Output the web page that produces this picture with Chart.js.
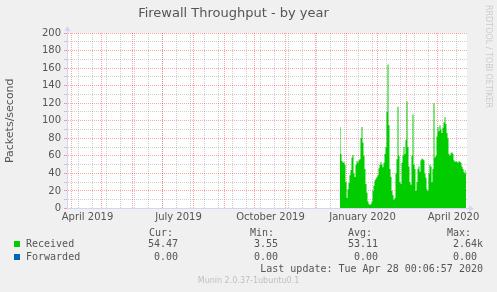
<!DOCTYPE html>
<html>
<head>
<meta charset="utf-8">
<title>Firewall Throughput - by year</title>
<script src="https://cdn.jsdelivr.net/npm/chart.js@4.4.1/dist/chart.umd.min.js"></script>
<style>
  body { margin: 0; background: #f0f0f0; }
  #wrap { position: relative; width: 497px; height: 292px; overflow: hidden; }
  #chart { position: absolute; left: 0; top: 0; }
  .lg { position: absolute; font: 10px "DejaVu Sans Mono", monospace; color: #555; white-space: pre; line-height: 12px; }
  .box { position: absolute; width: 6px; height: 6px; }
  #munin { position: absolute; left: 0; width: 497px; top: 276px; text-align: center; font: 8px "DejaVu Sans", sans-serif; color: #c0c0c0; line-height: 10px; }
  #rrd { position: absolute; left: 483px; top: 5px; writing-mode: vertical-rl; font: 8px "DejaVu Sans", sans-serif; color: #cccccc; line-height: 10px; }
</style>
</head>
<body>
<div id="wrap">
  <canvas id="chart" width="497" height="292"></canvas>
  <div id="rrd">RRDTOOL / TOBI OETIKER</div>
  <div id="munin">Munin 2.0.37-1ubuntu0.1</div>
</div>
<script>
"use strict";

const DAY = 864e5;
const lastUpdate = Date.UTC(2020, 3, 28, 0, 6, 57);

// daily averages, packets/second, starting 25 Dec 2019
const firstDay = Date.UTC(2019, 11, 25);
const receivedValues = [
  93, 62, 54, 52, 53, 50, 30, 12, 22, 29,
  38, 44, 58, 61, 40, 36, 50, 54, 52, 55,
  56, 80, 93, 75, 60, 45, 28, 18, 8, 5,
  4, 5, 8, 20, 26, 32, 34, 36, 38, 46,
  50, 53, 50, 47, 52, 62, 70, 110, 164, 95,
  45, 36, 20, 15, 10, 12, 40, 56, 116, 60,
  30, 28, 52, 60, 70, 62, 78, 122, 70, 48,
  30, 27, 60, 107, 50, 45, 20, 30, 45, 48,
  42, 55, 57, 56, 55, 40, 35, 22, 20, 40,
  50, 48, 30, 45, 120, 58, 60, 82, 93, 88,
  95, 90, 86, 92, 98, 104, 96, 86, 80, 62,
  60, 63, 64, 62, 55, 53, 54, 53, 52, 54,
  53, 52, 48, 45, 42, 40, 44
];
const forwardedValues = [
  0, 0, 0, 0, 0, 0, 0, 0, 0, 0,
  0, 0, 0, 0, 0, 0, 0, 0, 0, 0,
  0, 0, 0, 0, 0, 0, 0, 0, 0, 0,
  0, 0, 0, 0, 0, 0, 0, 0, 0, 0,
  0, 0, 0, 0, 0, 0, 0, 0, 0, 0,
  0, 0, 0, 0, 0, 0, 0, 0, 0, 0,
  0, 0, 0, 0, 0, 0, 0, 0, 0, 0,
  0, 0, 0, 0, 0, 0, 0, 0, 0, 0,
  0, 0, 0, 0, 0, 0, 0, 0, 0, 0,
  0, 0, 0, 0, 0, 0, 0, 0, 0, 0,
  0, 0, 0, 0, 0, 0, 0, 0, 0, 0,
  0, 0, 0, 0, 0, 0, 0, 0, 0, 0,
  0, 0, 0, 0, 0, 0, 0
];

const seriesNames = ['Received', 'Forwarded'];
const curValues = [54.47, 0];
const minValues = [3.55, 0];
const avgValues = [53.11, 0];
const maxValues = [2640, 0];

const tickLabels = ['April 2019', 'July 2019', 'October 2019', 'January 2020', 'April 2020'];
const tickLabelMonths = [[2019, 3], [2019, 6], [2019, 9], [2020, 0], [2020, 3]];

const green = '#00cc00';
const blue = '#0066b3';
const axisColor = '#cfd6f8';
const majorGrid = 'rgba(255, 0, 0, 0.35)';
const minorGrid = 'rgba(120, 120, 120, 0.35)';

const xMin = -398;
const xMax = 2;

function dayX(t) {
  return (t - lastUpdate) / DAY;
}

function toPoints(values) {
  return values.map((v, i) => ({ x: dayX(firstDay + i * DAY), y: v }));
}

// x ticks: fortnightly minor lines (mondays), monthly major lines, quarterly labels
function buildXTicks() {
  let ticks = [];
  for (let t = Date.UTC(2019, 3, 8); dayX(t) <= xMax; t += 14 * DAY) {
    ticks.push({ value: dayX(t), kind: 'minor', text: '' });
  }
  for (let m = 0; m < 14; m++) {
    let t = Date.UTC(2019, 3 + m, 1);
    if (dayX(t) <= xMax) ticks.push({ value: dayX(t), kind: 'major', text: '' });
  }
  tickLabelMonths.forEach((ym, i) => {
    ticks.push({ value: dayX(Date.UTC(ym[0], ym[1], 16, 12)), kind: 'label', text: tickLabels[i] });
  });
  ticks = ticks.filter(t => t.value >= xMin && t.value <= xMax);
  ticks.sort((a, b) => a.value - b.value);
  return ticks;
}

function fmt(v) {
  if (v >= 1000) return (v / 1000).toFixed(2) + 'k';
  return v.toFixed(2) + ' ';
}

const plotFrame = {
  id: 'plotFrame',
  beforeDraw(chart) {
    const { ctx, chartArea: a } = chart;
    ctx.save();
    ctx.fillStyle = '#ffffff';
    ctx.fillRect(a.left, a.top, a.right - a.left, a.bottom - a.top);
    ctx.restore();
  },
  afterDraw(chart) {
    const { ctx, chartArea: a } = chart;
    const x0 = Math.round(a.left) + 0.5;
    const y0 = Math.round(a.bottom) - 0.5;
    ctx.save();
    ctx.strokeStyle = axisColor;
    ctx.fillStyle = axisColor;
    ctx.lineWidth = 1;
    ctx.beginPath();
    ctx.moveTo(x0, a.top);
    ctx.lineTo(x0, a.top - 3);
    ctx.moveTo(a.right, y0);
    ctx.lineTo(a.right + 3, y0);
    ctx.stroke();
    ctx.beginPath();
    ctx.moveTo(x0 - 3, a.top - 2);
    ctx.lineTo(x0 + 3, a.top - 2);
    ctx.lineTo(x0, a.top - 7);
    ctx.closePath();
    ctx.fill();
    ctx.beginPath();
    ctx.moveTo(a.right + 2, y0 - 3);
    ctx.lineTo(a.right + 2, y0 + 3);
    ctx.lineTo(a.right + 7, y0);
    ctx.closePath();
    ctx.fill();
    ctx.restore();
  }
};

let ctx = document.getElementById('chart').getContext('2d');
let chart = new Chart(ctx, {
  type: 'line',
  data: {
    datasets: [{
      label: seriesNames[0],
      data: toPoints(receivedValues),
      backgroundColor: green,
      borderColor: green,
      borderWidth: 0,
      pointRadius: 0,
      stepped: 'middle',
      fill: 'origin'
    }, {
      label: seriesNames[1],
      data: toPoints(forwardedValues),
      backgroundColor: blue,
      borderColor: blue,
      borderWidth: 0,
      pointRadius: 0,
      stepped: 'middle',
      fill: 'origin'
    }]
  },
  options: {
    responsive: false,
    animation: false,
    events: [],
    layout: { padding: { left: 0, right: 30, top: 0, bottom: 0 } },
    plugins: {
      legend: { display: false },
      tooltip: { enabled: false },
      title: {
        display: true,
        text: 'Firewall Throughput - by year',
        color: '#555',
        font: { family: 'DejaVu Sans', size: 13, weight: 'normal' },
        padding: { top: 6, bottom: 11.4 }
      }
    },
    scales: {
      x: {
        type: 'linear',
        min: xMin,
        max: xMax,
        afterBuildTicks(scale) { scale.ticks = buildXTicks(); },
        afterFit(scale) { scale.height = 83.5; },
        ticks: {
          autoSkip: false,
          maxRotation: 0,
          padding: 3,
          color: '#555',
          font: { family: 'DejaVu Sans', size: 10 },
          callback(value, index, ticks) { return ticks[index].text; }
        },
        grid: {
          drawTicks: false,
          color: c => c.tick && c.tick.kind === 'major' ? majorGrid : minorGrid,
          lineWidth: c => c.tick && c.tick.kind === 'label' ? 0 : 1
        },
        border: { z: 2, color: axisColor, width: 1, dash: [1, 1] }
      },
      y: {
        min: 0,
        max: 200,
        afterFit(scale) { scale.width = 67; },
        title: {
          display: true,
          text: 'Packets/second',
          color: '#555',
          font: { family: 'DejaVu Sans', size: 11 },
          padding: { top: 4, bottom: 4 }
        },
        ticks: {
          stepSize: 10,
          autoSkip: false,
          padding: 3,
          color: '#555',
          font: { family: 'DejaVu Sans', size: 10 },
          callback(value) { return value % 20 === 0 ? String(value) : ''; }
        },
        grid: {
          tickLength: 3,
          color: c => c.tick && c.tick.value % 20 === 0 ? majorGrid : minorGrid,
          tickColor: c => c.tick && c.tick.value % 20 === 0 ? majorGrid : minorGrid
        },
        border: { z: 2, color: axisColor, width: 1, dash: [1, 1] }
      }
    }
  },
  plugins: [plotFrame]
});

// legend table below the plot, laid out like munin's rrdtool footer
function addText(text, left, top, right) {
  let el = document.createElement('div');
  el.className = 'lg';
  el.textContent = text;
  el.style.top = top + 'px';
  if (right !== undefined) el.style.right = (497 - right) + 'px';
  else el.style.left = left + 'px';
  document.getElementById('wrap').appendChild(el);
}

const headerX = [149, 250, 348, 447];
const valueRight = [184, 284, 384, 483];
const rowTop = [238, 251];
const boxColors = [green, blue];

['Cur:', 'Min:', 'Avg:', 'Max:'].forEach((h, i) => addText(h, headerX[i], 227));
seriesNames.forEach((name, r) => {
  let box = document.createElement('div');
  box.className = 'box';
  box.style.left = '14px';
  box.style.top = (rowTop[r] + 3) + 'px';
  box.style.background = boxColors[r];
  document.getElementById('wrap').appendChild(box);
  addText(name, 26, rowTop[r]);
  [curValues, minValues, avgValues, maxValues].forEach((col, i) => {
    addText(fmt(col[r]), 0, rowTop[r], valueRight[i]);
  });
});
addText('Last update: Tue Apr 28 00:06:57 2020', 0, 263, 483);
</script>
</body>
</html>
